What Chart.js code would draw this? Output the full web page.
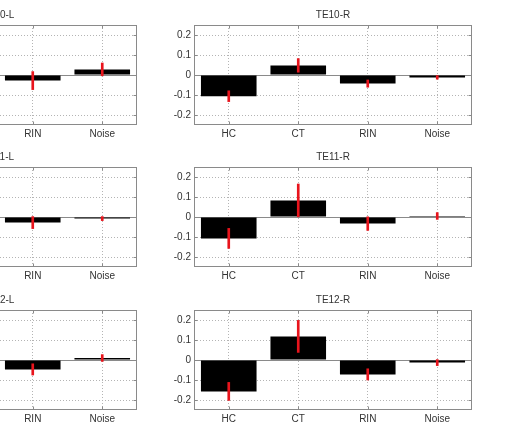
<!DOCTYPE html>
<html>
<head>
<meta charset="utf-8">
<script src="https://cdn.jsdelivr.net/npm/chart.js@4/dist/chart.umd.min.js"></script>
<style>
  html, body {
    margin: 0;
    padding: 0;
    width: 506px;
    height: 424px;
    overflow: hidden;
    background: #fff;
    position: relative;
  }
  canvas {
    position: absolute;
  }
</style>
</head>
<body>
<script>
// Categories and axis ticks
const categories = ["HC", "CT", "RIN", "Noise"];
const yTicks = [-0.2, -0.1, 0, 0.1, 0.2];

// Mean values and error half-widths per panel (HC/CT of the left panels are cut off in the picture)
const te10L = [null, null, -0.028, 0.028];
const te10LErr = [null, null, 0.045, 0.032];
const te10R = [-0.106, 0.048, -0.043, -0.012];
const te10RErr = [0.027, 0.034, 0.018, 0.009];

const te11L = [null, null, -0.028, -0.008];
const te11LErr = [null, null, 0.03, 0.01];
const te11R = [-0.107, 0.083, -0.033, 0.005];
const te11RErr = [0.05, 0.082, 0.034, 0.017];

const te12L = [null, null, -0.047, 0.01];
const te12LErr = [null, null, 0.028, 0.017];
const te12R = [-0.157, 0.118, -0.072, -0.013];
const te12RErr = [0.045, 0.08, 0.028, 0.015];

const ChartModule = (function () {
  const FONT = { family: "'Liberation Sans', Arial, sans-serif", size: 10 };
  const TEXT_COLOR = "#333";
  const GRID_COLOR = "#b4b4b4";
  const FRAME_COLOR = "#8a8a8a";

  // Frame, ticks and zero baseline like a MATLAB axes box
  const framePlugin = {
    id: "frame",
    beforeDatasetsDraw(chart) {
      const { ctx, chartArea: a, scales } = chart;
      const y0 = Math.round(scales.y.getPixelForValue(0)) + 0.5;
      ctx.save();
      ctx.strokeStyle = FRAME_COLOR;
      ctx.lineWidth = 1;
      ctx.beginPath();
      ctx.moveTo(a.left, y0);
      ctx.lineTo(a.right, y0);
      ctx.stroke();
      ctx.restore();
    },
    afterDatasetsDraw(chart) {
      const { ctx, chartArea: a, scales } = chart;
      const l = Math.round(a.left) + 0.5;
      const r = Math.round(a.right) - 0.5;
      const t = Math.round(a.top) + 0.5;
      const b = Math.round(a.bottom) - 0.5;
      ctx.save();
      ctx.strokeStyle = FRAME_COLOR;
      ctx.lineWidth = 1;
      ctx.strokeRect(l, t, r - l, b - t);
      ctx.beginPath();
      scales.y.ticks.forEach((tk) => {
        const y = Math.round(scales.y.getPixelForValue(tk.value)) + 0.5;
        ctx.moveTo(l, y);
        ctx.lineTo(l + 3, y);
        ctx.moveTo(r, y);
        ctx.lineTo(r - 3, y);
      });
      scales.x.ticks.forEach((tk, i) => {
        const x = Math.round(scales.x.getPixelForTick(i)) + 0.5;
        ctx.moveTo(x, t);
        ctx.lineTo(x, t + 3);
        ctx.moveTo(x, b);
        ctx.lineTo(x, b - 3);
      });
      ctx.stroke();
      ctx.restore();
    },
  };

  // Create one panel
  function renderPanel(panel) {
    const canvas = document.createElement("canvas");
    canvas.width = 340;
    canvas.height = 140;
    canvas.style.left = panel.left + "px";
    canvas.style.top = panel.top + "px";
    document.body.appendChild(canvas);

    const errData = panel.values.map((v, i) =>
      v === null ? null : [v - panel.errors[i], v + panel.errors[i]]
    );

    return new Chart(canvas.getContext("2d"), {
      type: "bar",
      data: {
        labels: categories,
        datasets: [
          {
            data: panel.values,
            backgroundColor: "#000",
            borderWidth: 0,
            grouped: false,
            barPercentage: 0.8,
            categoryPercentage: 1,
            order: 2,
          },
          {
            data: errData,
            backgroundColor: "#e8141c",
            borderWidth: 0,
            grouped: false,
            barThickness: 2,
            order: 1,
          },
        ],
      },
      options: {
        responsive: false,
        animation: false,
        devicePixelRatio: 1,
        layout: { padding: { left: 0, right: 18, top: 0, bottom: 0 } },
        plugins: {
          legend: { display: false },
          tooltip: { enabled: false },
          title: {
            display: true,
            fullSize: false,
            text: panel.title,
            color: TEXT_COLOR,
            font: { ...FONT, weight: "normal", lineHeight: 1.2 },
            padding: { top: 9, bottom: 4 },
          },
        },
        scales: {
          x: {
            type: "category",
            offset: true,
            grid: {
              offset: false,
              drawTicks: false,
              color: GRID_COLOR,
            },
            border: { display: false, dash: [1, 2] },
            ticks: { padding: 3, color: TEXT_COLOR, font: FONT, maxRotation: 0 },
            afterFit: (s) => {
              s.height = 15;
            },
          },
          y: {
            min: -0.25,
            max: 0.25,
            grid: { drawTicks: false, color: GRID_COLOR },
            border: { display: false, dash: [1, 2] },
            ticks: {
              padding: 3,
              color: TEXT_COLOR,
              font: FONT,
              callback: (v) => String(v),
            },
            afterBuildTicks: (s) => {
              s.ticks = yTicks.map((v) => ({ value: v }));
            },
            afterFit: (s) => {
              s.width = 44;
            },
          },
        },
      },
      plugins: [framePlugin],
    });
  }

  function renderAll() {
    const leftX = -185;
    const rightX = 150;
    const rowTops = [0, 142, 285];
    const panels = [
      { title: "TE10-L", values: te10L, errors: te10LErr, left: leftX, top: rowTops[0] },
      { title: "TE10-R", values: te10R, errors: te10RErr, left: rightX, top: rowTops[0] },
      { title: "TE11-L", values: te11L, errors: te11LErr, left: leftX, top: rowTops[1] },
      { title: "TE11-R", values: te11R, errors: te11RErr, left: rightX, top: rowTops[1] },
      { title: "TE12-L", values: te12L, errors: te12LErr, left: leftX, top: rowTops[2] },
      { title: "TE12-R", values: te12R, errors: te12RErr, left: rightX, top: rowTops[2] },
    ];
    panels.forEach(renderPanel);
  }

  return { renderAll };
})();

ChartModule.renderAll();
</script>
</body>
</html>
